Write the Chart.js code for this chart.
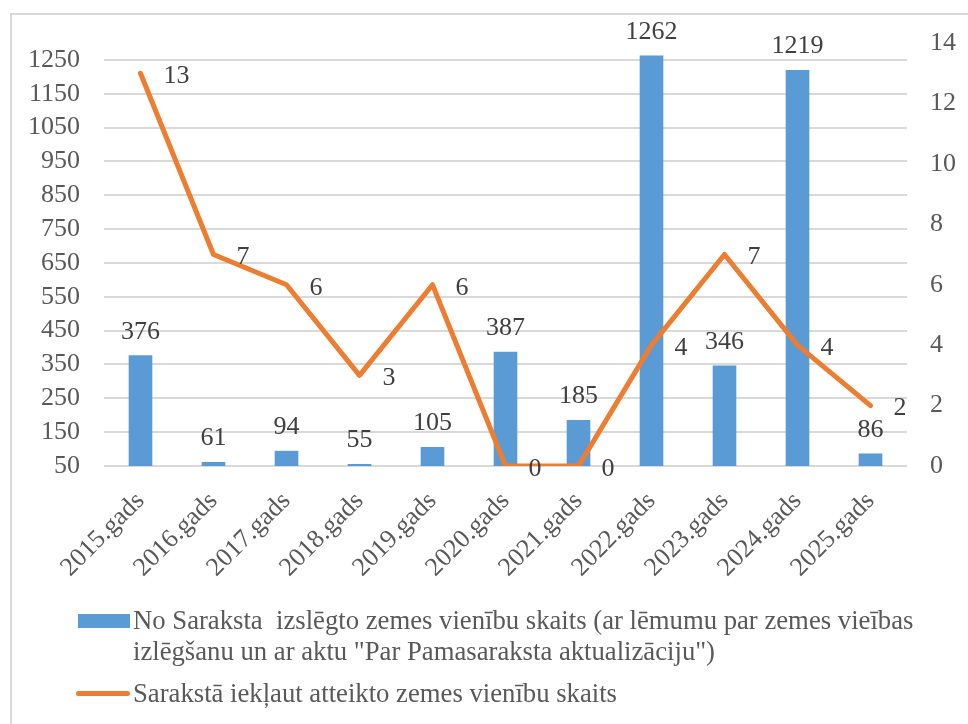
<!DOCTYPE html>
<html>
<head>
<meta charset="utf-8">
<script src="https://cdn.jsdelivr.net/npm/chart.js@4.4.1/dist/chart.umd.min.js"></script>
<style>
  body { margin: 0; background: #fff; }
  #wrap { position: relative; width: 968px; height: 724px; overflow: hidden; font-family: 'Liberation Serif', 'Times New Roman', serif; color: #595959; }
  #frame { position: absolute; left: 10px; top: 13px; width: 980px; height: 740px; border: 2px solid #d9d9d9; box-sizing: border-box; }
  #chart { position: absolute; left: 0; top: 0; }
  .leg { position: absolute; font-size: 26.7px; line-height: 31px; white-space: nowrap; }
  .sw { position: absolute; }
</style>
</head>
<body>
<div id="wrap">
  <div id="frame"></div>
  <canvas id="chart" width="968" height="724"></canvas>
  <div class="sw" style="left:78px; top:614px; width:52px; height:14px; background:#5b9bd5;"></div>
  <div class="leg" style="left:133px; top:605px;">No Saraksta&nbsp; izslēgto zemes vienību skaits (ar lēmumu par zemes vieības<br>izlēgšanu un ar aktu "Par Pamasaraksta aktualizāciju")</div>
  <div class="sw" style="left:76px; top:691px; width:54px; height:5px; border-radius:3px; background:#ed7d31;"></div>
  <div class="leg" style="left:133px; top:678px;">Sarakstā iekļaut atteikto zemes vienību skaits</div>
</div>
<script>
// data
var years = ['2015.gads', '2016.gads', '2017.gads', '2018.gads', '2019.gads', '2020.gads',
             '2021.gads', '2022.gads', '2023.gads', '2024.gads', '2025.gads'];
var excluded = [376, 61, 94, 55, 105, 387, 185, 1262, 346, 1219, 86];
var refused = [13, 7, 6, 3, 6, 0, 0, 4, 7, 4, 2];
var leftTicks = [50, 150, 250, 350, 450, 550, 650, 750, 850, 950, 1050, 1150, 1250];
var rightTicks = [0, 2, 4, 6, 8, 10, 12, 14];

var FONT = "'Liberation Serif', 'Times New Roman', serif";

// value labels for both series
var valueLabels = {
	id: 'valueLabels',
	afterDatasetsDraw: function(chart) {
		var ctx = chart.ctx;
		ctx.save();
		ctx.font = '26px ' + FONT;
		ctx.fillStyle = '#404040';
		chart.data.datasets.forEach(function(ds, di) {
			var meta = chart.getDatasetMeta(di);
			meta.data.forEach(function(el, i) {
				if (ds.type === 'bar') {
					ctx.textAlign = 'center';
					ctx.textBaseline = 'alphabetic';
					ctx.fillText(ds.data[i], el.x, el.y - 17);
				} else {
					ctx.textAlign = 'left';
					ctx.textBaseline = 'middle';
					ctx.fillText(ds.data[i], el.x + 23, el.y + 3);
				}
			});
		});
		ctx.restore();
	}
};

var ctx = document.getElementById('chart').getContext('2d');
var chart = new Chart(ctx, {
	data: {
		labels: years,
		datasets: [{
			type: 'line',
			label: 'Sarakstā iekļaut atteikto zemes vienību skaits',
			data: refused,
			yAxisID: 'y1',
			borderColor: '#ed7d31',
			borderWidth: 5,
			tension: 0,
			pointRadius: 0,
			borderCapStyle: 'round',
			borderJoinStyle: 'round',
			order: 0
		}, {
			type: 'bar',
			label: 'No Saraksta  izslēgto zemes vienību skaits',
			data: excluded,
			yAxisID: 'y',
			backgroundColor: '#5b9bd5',
			barThickness: 23,
			order: 1
		}]
	},
	options: {
		responsive: false,
		animation: false,
		layout: { padding: { top: 43, left: 0, right: 0, bottom: 0 } },
		plugins: {
			legend: { display: false },
			tooltip: { enabled: false }
		},
		scales: {
			x: {
				offset: true,
				grid: { display: false },
				border: { display: false },
				ticks: {
					color: '#595959',
					font: { family: FONT, size: 26 },
					minRotation: 45,
					maxRotation: 45,
					padding: 12
				},
				afterFit: function(scale) { scale.height = 258; }
			},
			y: {
				position: 'left',
				min: 50,
				max: 1300,
				grid: { color: '#d9d9d9', lineWidth: 2, drawTicks: false },
				border: { display: false },
				ticks: {
					color: '#595959',
					font: { family: FONT, size: 26 },
					padding: 24,
					callback: function(v) { return String(v); }
				},
				afterBuildTicks: function(scale) {
					scale.ticks = leftTicks.map(function(v) { return { value: v }; });
				},
				afterFit: function(scale) { scale.width = 104; }
			},
			y1: {
				position: 'right',
				min: 0,
				max: 14,
				grid: { display: false, drawTicks: false },
				border: { display: false },
				ticks: {
					color: '#595959',
					font: { family: FONT, size: 26 },
					padding: 23,
					callback: function(v) { return String(v); }
				},
				afterBuildTicks: function(scale) {
					scale.ticks = rightTicks.map(function(v) { return { value: v }; });
				},
				afterFit: function(scale) { scale.width = 61; }
			}
		}
	},
	plugins: [valueLabels]
});
</script>
</body>
</html>
